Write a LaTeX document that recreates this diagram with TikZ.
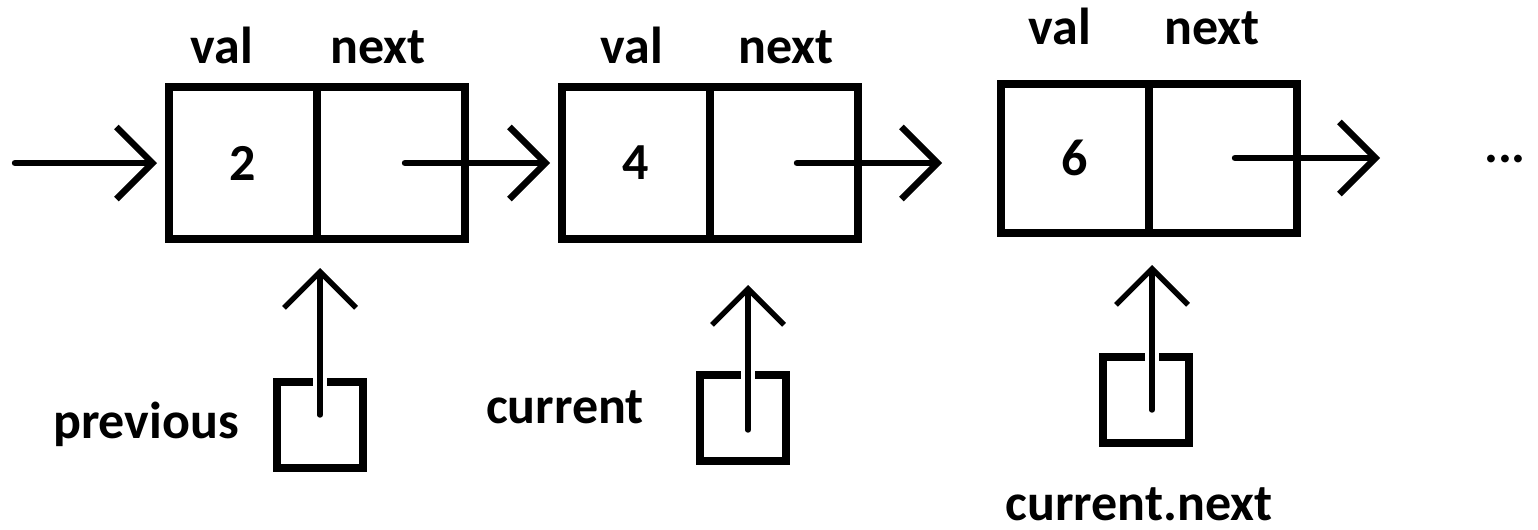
\documentclass[tikz,border=0pt]{standalone}
\usepackage{fontspec}
\setmainfont{Carlito}
\usetikzlibrary{arrows.meta,calc}
\newcommand{\lblfont}{\fontsize{26}{30}\selectfont\bfseries}
\begin{document}
\begin{tikzpicture}[x=0.5pt,y=-0.5pt,
  cell/.style={draw, line width=4pt, minimum width=74pt, minimum height=76pt, inner sep=0pt, font=\lblfont},
  ptr/.style={draw, line width=4pt, minimum width=43pt, minimum height=43pt, inner sep=0pt},
  lbl/.style={font=\lblfont, inner sep=0pt, anchor=base},
  arr/.style={line width=3.2pt, line cap=round, line join=round, -{Straight Barb[length=18pt,width=36pt]}},
  uparr/.style={arr, line width=2.7pt, preaction={draw=white, line width=7pt, -}}]
\useasboundingbox (0,0) rectangle (1538,530);
% list nodes
\node[cell] (v1) at (243,163) {2};
\node[cell] (n1) at (391,163) {};
\node[cell] (v2) at (636,163) {4};
\node[cell] (n2) at (784,163) {};
\node[cell, minimum height=74.5pt] (v3) at (1075,158) {6};
\node[cell, minimum height=74.5pt] (n3) at (1223,158) {};
% field labels
\node[lbl] (t1) at (222,63) {val};
\node[lbl] (t2) at (378,63) {next};
\node[lbl] (t3) at (632,63) {val};
\node[lbl] (t4) at (786,63) {next};
\node[lbl] (t5) at (1060,45) {val};
\node[lbl] (t6) at (1212,45) {next};
\node[lbl] (dots) at (1505,162) {...};
% horizontal arrows
\coordinate (in) at (15,163);
\coordinate (e2) at (942,163);
\coordinate (e3) at (1380,158);
\draw[arr, shorten >=4pt] (in) -- (v1.west);
\draw[arr, shorten >=4pt] ($(n1.center)+(14,0)$) -- (v2.west);
\draw[arr] ($(n2.center)+(13,0)$) -- (e2);
\draw[arr] ($(n3.center)+(12,0)$) -- (e3);
% pointer boxes
\node[ptr] (p) at (320,425) {};
\node[ptr] (c) at (743,418) {};
\node[ptr] (cn) at (1146,400) {};
\node[lbl] (lp) at (146,438) {previous};
\node[lbl] (lc) at (565,423) {current};
\node[lbl] (lcn) at (1139,520) {current.next};
\coordinate (tp) at (320,268);
\coordinate (tc) at (748,285);
\coordinate (tcn) at (1152,265);
\draw[uparr] ($(p.center)+(0,-10)$) -- (tp);
\draw[uparr] ($(c.center)+(5,12)$) -- (tc);
\draw[uparr] ($(cn.center)+(6,10)$) -- (tcn);
\end{tikzpicture}
\end{document}
